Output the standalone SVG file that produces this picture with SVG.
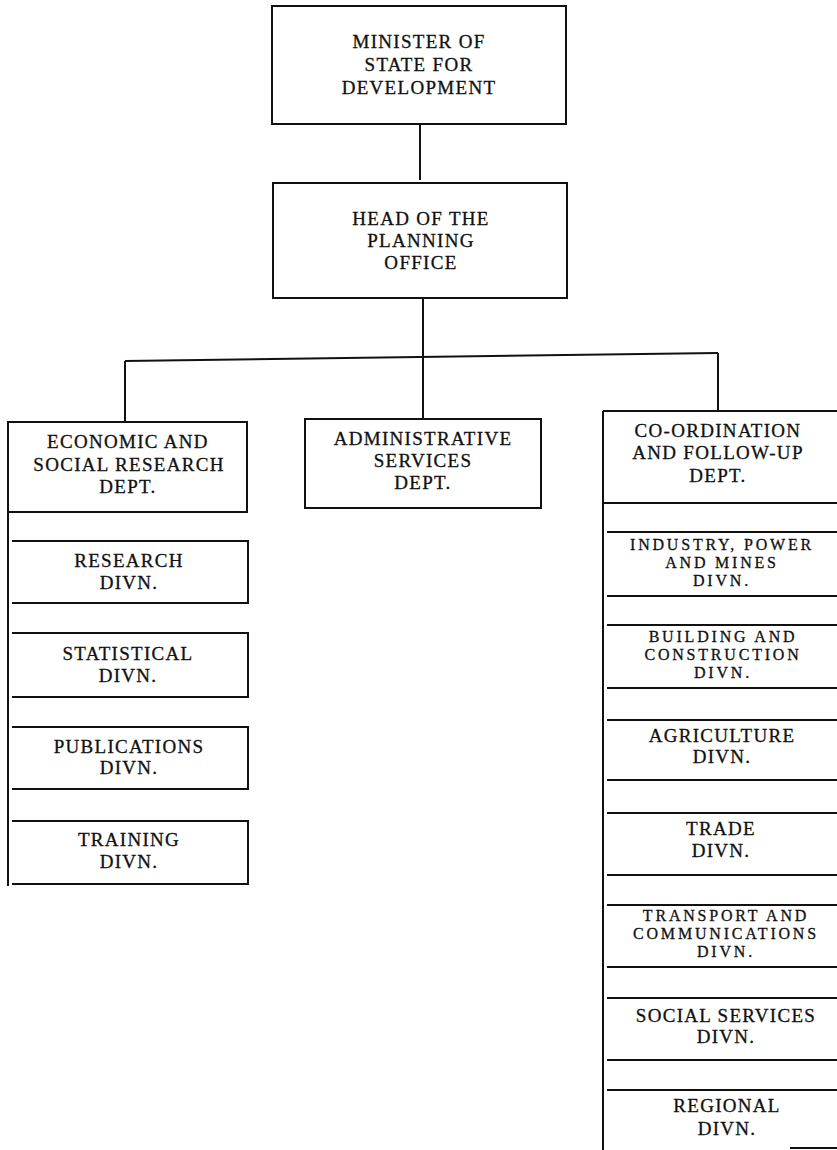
<svg xmlns="http://www.w3.org/2000/svg" width="837" height="1150" viewBox="0 0 837 1150">
<style>
.b{fill:none;stroke:#111;stroke-width:2}
.l{stroke:#111;stroke-width:2;fill:none}
text{font-family:"Liberation Serif","Times New Roman",serif;font-size:19px;fill:#111;stroke:#111;stroke-width:0.3;text-anchor:middle;letter-spacing:1.3px}
.s{font-size:16px;letter-spacing:2.8px}
</style>
<rect width="837" height="1150" fill="#fff"/>
<g id="connectors">
<path class="l" d="M420 124V180"/>
<path class="l" d="M423 299V418"/>
<path class="l" d="M125 361L718 353"/>
<path class="l" d="M125 361V421"/>
<path class="l" d="M718 353V411"/>
</g>
<g id="minister">
<rect class="b" x="272" y="6" width="294" height="118"/>
<text x="419" y="48">MINISTER OF</text>
<text x="419" y="71">STATE FOR</text>
<text x="419" y="94">DEVELOPMENT</text>
</g>
<g id="head">
<rect class="b" x="273" y="183" width="294" height="115"/>
<text x="421" y="225">HEAD OF THE</text>
<text x="421" y="247">PLANNING</text>
<text x="421" y="269">OFFICE</text>
</g>
<g id="esr">
<path class="l" d="M8 421V886M8 422H247V512H8"/>
<text x="128" y="448">ECONOMIC AND</text>
<text x="129" y="471">SOCIAL RESEARCH</text>
<text x="128" y="493">DEPT.</text>
</g>
<g id="research">
<path class="l" d="M12 541H248V603H12"/>
<text x="129" y="567">RESEARCH</text>
<text x="129" y="589">DIVN.</text>
</g>
<g id="statistical">
<path class="l" d="M12 633H248V697H12"/>
<text x="128" y="660">STATISTICAL</text>
<text x="128" y="682">DIVN.</text>
</g>
<g id="publications">
<path class="l" d="M12 727H248V789H12"/>
<text x="129" y="753">PUBLICATIONS</text>
<text x="129" y="774">DIVN.</text>
</g>
<g id="training">
<path class="l" d="M12 821H248V884H12"/>
<text x="129" y="846">TRAINING</text>
<text x="129" y="868">DIVN.</text>
</g>
<g id="admin">
<rect class="b" x="305" y="419" width="236" height="89"/>
<text x="423" y="445">ADMINISTRATIVE</text>
<text x="423" y="467">SERVICES</text>
<text x="423" y="489">DEPT.</text>
</g>
<g id="coord">
<path class="l" d="M603 411V1150M603 411H837M603 503H837"/>
<text x="718" y="437">CO-ORDINATION</text>
<text x="718" y="459">AND FOLLOW-UP</text>
<text x="718" y="482">DEPT.</text>
</g>
<g id="industry">
<path class="l" d="M607 532H837M607 596H837"/>
<text class="s" x="722" y="550">INDUSTRY, POWER</text>
<text class="s" x="722" y="568">AND MINES</text>
<text class="s" x="722" y="586">DIVN.</text>
</g>
<g id="building">
<path class="l" d="M607 625H837M607 688H837"/>
<text class="s" x="723" y="642">BUILDING AND</text>
<text class="s" x="723" y="660">CONSTRUCTION</text>
<text class="s" x="723" y="678">DIVN.</text>
</g>
<g id="agriculture">
<path class="l" d="M607 720H837M607 780H837"/>
<text x="722" y="742">AGRICULTURE</text>
<text x="722" y="763">DIVN.</text>
</g>
<g id="trade">
<path class="l" d="M607 813H837M607 875H837"/>
<text x="721" y="835">TRADE</text>
<text x="721" y="857">DIVN.</text>
</g>
<g id="transport">
<path class="l" d="M607 905H837M607 967H837"/>
<text class="s" x="726" y="921">TRANSPORT AND</text>
<text class="s" x="726" y="939">COMMUNICATIONS</text>
<text class="s" x="726" y="957">DIVN.</text>
</g>
<g id="social">
<path class="l" d="M607 998H837M607 1060H837"/>
<text x="726" y="1022">SOCIAL SERVICES</text>
<text x="726" y="1043">DIVN.</text>
</g>
<g id="regional">
<path class="l" d="M607 1090H837M790 1148H837"/>
<text x="727" y="1112">REGIONAL</text>
<text x="727" y="1135">DIVN.</text>
</g>
</svg>
